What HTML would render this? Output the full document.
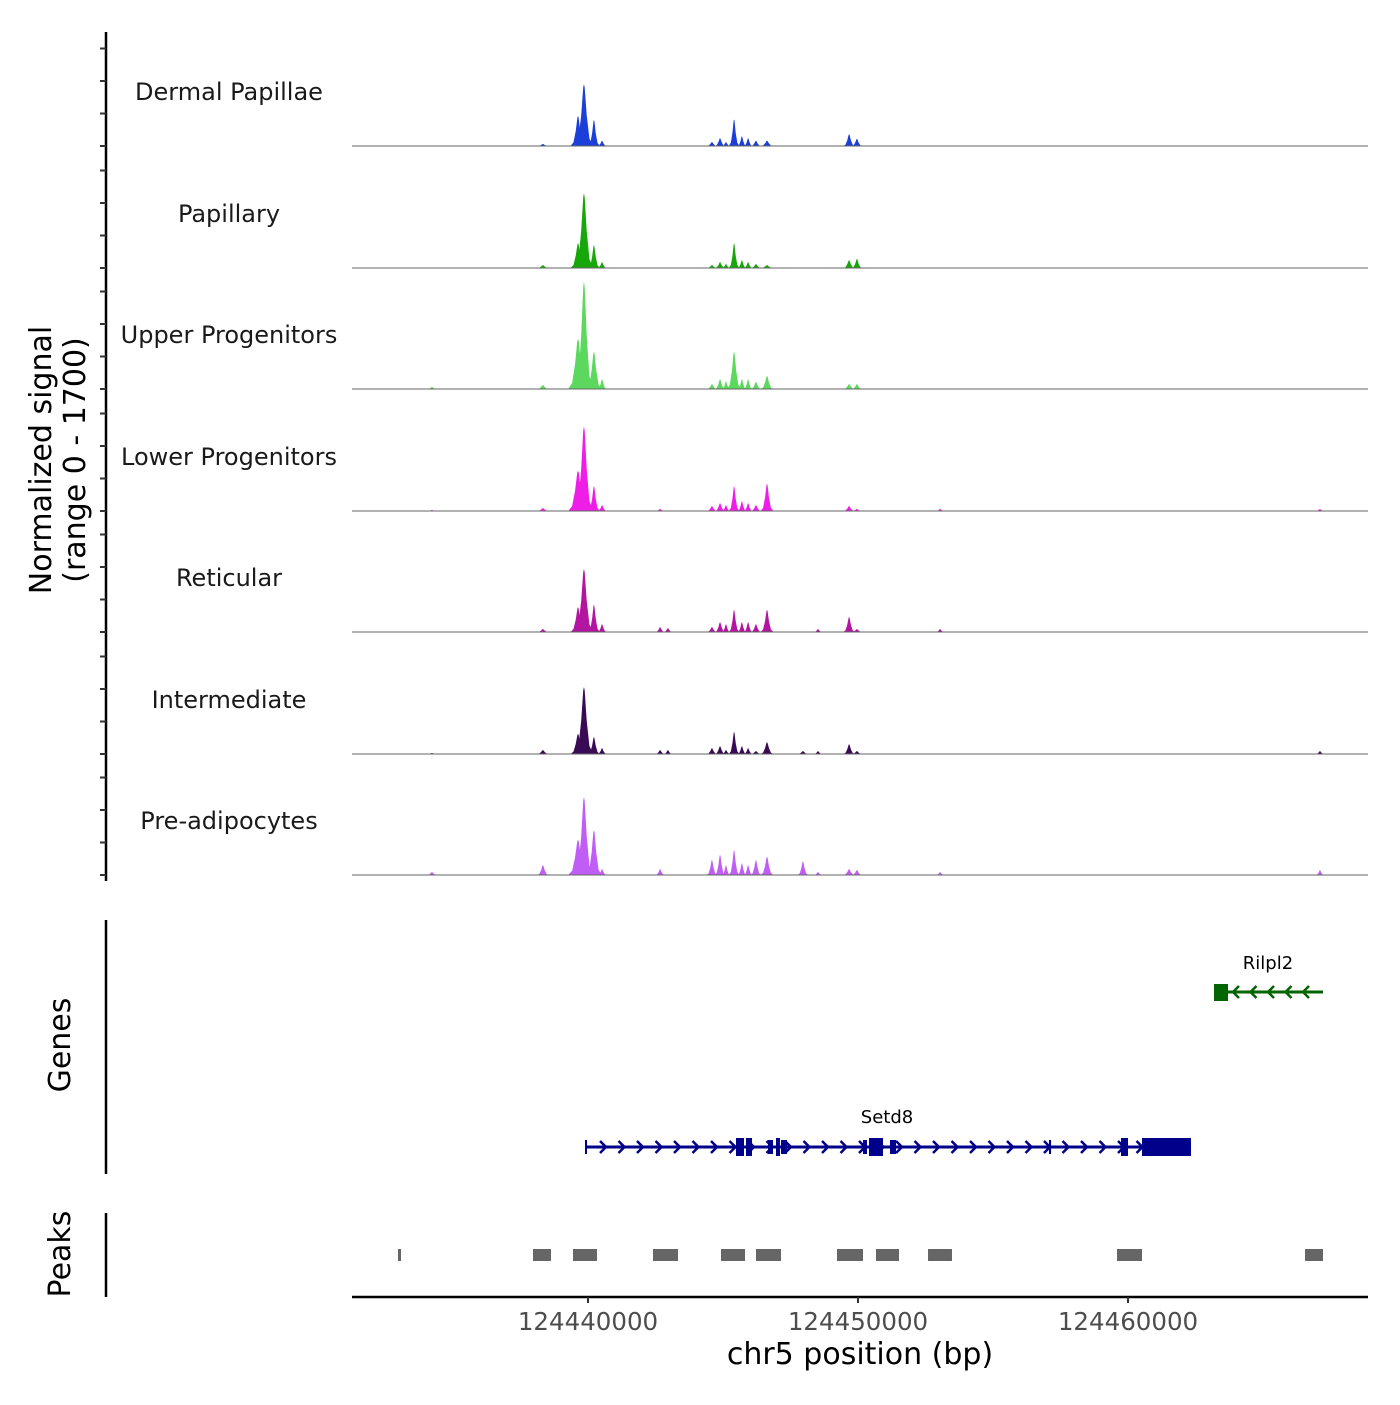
<!DOCTYPE html>
<html><head><meta charset="utf-8"><style>
body{margin:0;background:#fff}
svg{font-family:"DejaVu Sans","Liberation Sans",sans-serif}
</style></head><body>
<svg id="c" width="1400" height="1400" viewBox="0 0 1400 1400"></svg>
<script>
const trackNames=["Dermal Papillae","Papillary","Upper Progenitors","Lower Progenitors","Reticular","Intermediate","Pre-adipocytes"];
const trackColors=["#1b3fd8","#17a70b","#5cd85e","#ef1ee6","#b2159f","#3a0b55","#bf5df4"];
const peakPos=[124434220,124438330,124439630,124439850,124440220,124440520,124442670,124442960,124444590,124444890,124445110,124445410,124445700,124445930,124446220,124446630,124447960,124448520,124449670,124449960,124453040,124467110];
const sigDP=[0,30,460,950,400,80,0,0,60,120,60,410,150,120,80,80,0,0,180,110,0,0];
const sigPap=[0,45,380,1150,350,90,0,0,45,90,60,380,120,90,60,45,0,0,120,140,0,0];
const sigUP=[30,60,770,1650,570,150,0,0,75,150,120,570,150,150,110,200,0,0,75,75,0,0];
const sigLP=[15,45,620,1300,380,90,30,0,75,120,90,380,150,120,90,420,0,0,75,30,30,30];
const sigRet=[0,45,380,970,420,120,75,60,75,150,120,340,150,150,120,340,0,45,230,45,45,0];
const sigInt=[15,60,310,1030,260,90,60,60,90,120,60,340,120,90,45,180,45,45,150,45,0,45];
const sigPre=[45,150,540,1200,690,90,90,0,230,310,150,380,180,150,230,280,210,45,90,75,45,75];
const signals=[sigDP,sigPap,sigUP,sigLP,sigRet,sigInt,sigPre];
const peakWidth=[200,220,280,260,220,180,180,160,200,200,160,200,170,170,200,240,200,160,220,200,160,160];
const xTicks=[124440000,124450000,124460000];
const peaksStart=[124432963,124437963,124439445,124442407,124444926,124446222,124449222,124450667,124452593,124459593,124466556];
const peaksEnd=[124433074,124438630,124440333,124443333,124445815,124447148,124450185,124451519,124453481,124460519,124467222];
const setd8Exons=[[124439889,124439960,14],[124445481,124445778,18],[124445852,124446074,18],[124446667,124446852,14],[124446963,124447111,18],[124447148,124447370,14],[124450185,124450333,14],[124450407,124450926,18],[124451185,124451407,14],[124457074,124457150,14],[124459741,124460000,18],[124460519,124462333,18]];
const ns="http://www.w3.org/2000/svg";
const svg=document.getElementById('c');
function X(bp){return 588+(bp-124440000)*0.027;}
function Y(v,base){return base-v*0.065;}
function el(t,a,p){const e=document.createElementNS(ns,t);for(const k in a)e.setAttribute(k,a[k]);(p||svg).appendChild(e);return e;}
const bases=[146,268,389,511,632,754,875];
el('line',{x1:106,y1:32,x2:106,y2:881,stroke:'#000','stroke-width':2.5});
bases.forEach((b,i)=>{
 [0,500,1000,1500].forEach(v=>{const t=el('line',{x1:100,x2:106,y1:Y(v,b),y2:Y(v,b),stroke:'#333','stroke-width':2});
 
 });
 const g=el('g',{});
 
 
 const s=signals[i];
 peakPos.forEach((p,j)=>{if(s[j]<=0)return;const w=peakWidth[j]*(s[j]>500?1.3:1);
  const path=el('path',{d:`M${X(p-w)},${b} L${X(p-w*0.6)},${Y(s[j]*0.12,b)} L${X(p-w*0.3)},${Y(s[j]*0.5,b)} L${X(p-w*0.08)},${Y(s[j]*0.95,b)} L${X(p)},${Y(s[j],b)} L${X(p+w*0.08)},${Y(s[j]*0.95,b)} L${X(p+w*0.3)},${Y(s[j]*0.5,b)} L${X(p+w*0.6)},${Y(s[j]*0.12,b)} L${X(p+w)},${b} Z`,fill:trackColors[i]},g);
  
  });
 el('line',{x1:352,x2:1368,y1:b,y2:b,stroke:'#666','stroke-width':1},g);
 const t=el('text',{x:229,y:b-46,'text-anchor':'middle','font-size':24,fill:'#1a1a1a'});t.textContent=trackNames[i];
 
 
});
const yl=el('text',{transform:'translate(51,460) rotate(-90)','text-anchor':'middle','font-size':30,fill:'#000'});


yl.innerHTML='<tspan x="0" dy="0">Normalized signal</tspan><tspan x="0" dy="34">(range 0 - 1700)</tspan>';
el('line',{x1:106,y1:920,x2:106,y2:1174,stroke:'#000','stroke-width':2.5});
const gl=el('text',{transform:'translate(70,1045) rotate(-90)','text-anchor':'middle','font-size':30});gl.textContent='Genes';


const sg=el('g',{});


el('line',{x1:X(124439889),x2:X(124462333),y1:1147,y2:1147,stroke:'#00008b','stroke-width':3},sg);
for(let x=603;x<1140;x+=18.5){el('path',{d:`M${x-3},${1141} L${x+3},1147 L${x-3},1153`,stroke:'#00008b','stroke-width':2.5,fill:'none'},sg);}
setd8Exons.forEach(e=>el('rect',{x:X(e[0]),y:1147-e[2]/2,width:Math.max(2,X(e[1])-X(e[0])),height:e[2],fill:'#00008b'},sg));
let t=el('text',{x:887,y:1123,'text-anchor':'middle','font-size':18},sg);t.textContent='Setd8';
const rg=el('g',{});


el('line',{x1:1215,x2:1323,y1:992,y2:992,stroke:'#006400','stroke-width':3},rg);
for(let x=1236;x<1320;x+=17.5){el('path',{d:`M${x+3},986 L${x-3},992 L${x+3},998`,stroke:'#006400','stroke-width':2.5,fill:'none'},rg);}
el('rect',{x:1214,y:984,width:14,height:17,fill:'#006400'},rg);
t=el('text',{x:1268,y:969,'text-anchor':'middle','font-size':18},rg);t.textContent='Rilpl2';
el('line',{x1:106,y1:1213,x2:106,y2:1297,stroke:'#000','stroke-width':2.5});
const pl=el('text',{transform:'translate(70,1254) rotate(-90)','text-anchor':'middle','font-size':30});pl.textContent='Peaks';


peaksStart.forEach((s,i)=>{const r=el('rect',{x:X(s),y:1249,width:Math.max(3,X(peaksEnd[i])-X(s)),height:12,fill:'#666'});
 
 });
el('line',{x1:352,x2:1368,y1:1297,y2:1297,stroke:'#000','stroke-width':2.5});
xTicks.forEach(v=>{el('line',{x1:X(v),x2:X(v),y1:1297,y2:1303,stroke:'#333','stroke-width':2});
 const tt=el('text',{x:X(v),y:1330,'text-anchor':'middle','font-size':24.5,fill:'#4d4d4d'});tt.textContent=v;
 
 });
const xt=el('text',{x:860,y:1364,'text-anchor':'middle','font-size':30});xt.textContent='chr5 position (bp)';


</script>
</body></html>
